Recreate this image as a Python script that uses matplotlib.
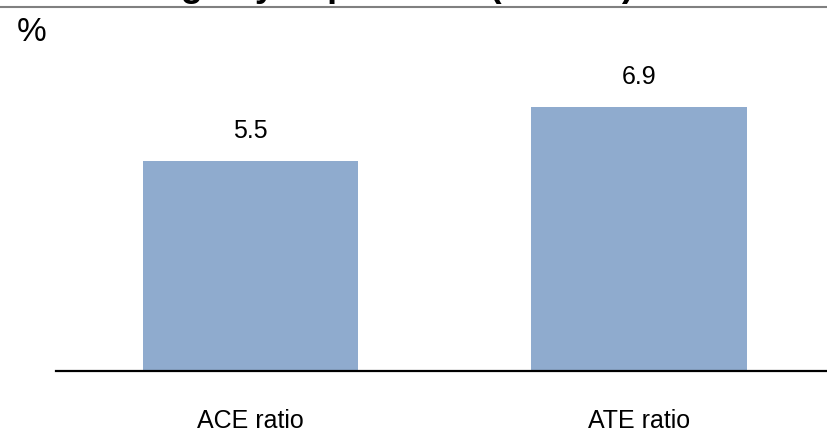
import matplotlib.pyplot as plt

# data
categories = ["ACE ratio", "ATE ratio"]
values = [5.5, 6.9]
value_labels = ["5.5", "6.9"]
title_text = "Tax savings by importance (% GDP)"
unit_label = "%"

BAR_COLOR = "#8FABCE"

plt.rcParams["font.family"] = ["Liberation Sans", "DejaVu Sans"]

fig = plt.figure(figsize=(8.27, 4.34), dpi=100)

# axes placed in pixel terms: left 56px, baseline at y=371px
ax = fig.add_axes([56 / 827, 63 / 434, 1 - 56 / 827, 306 / 434])

x = list(range(len(categories)))
bars = ax.bar(x, values, width=0.555, color=BAR_COLOR)

for rect, lab in zip(bars, value_labels):
    ax.annotate(lab, (rect.get_x() + rect.get_width() / 2, rect.get_height()),
                xytext=(0, 13), textcoords="offset points",
                ha="center", va="bottom", fontsize=18)

ax.set_xlim(-0.5, 1.483)
ax.set_ylim(0, 8)
ax.set_xticks(x)
ax.set_xticklabels(categories, fontsize=18)
ax.tick_params(axis="x", length=0, pad=27)
ax.set_yticks([])

for side in ["top", "right", "left"]:
    ax.spines[side].set_visible(False)
ax.spines["bottom"].set_linewidth(1.6)
ax.spines["bottom"].set_color("black")

# title (clipped at top edge in the reference) and the grey rule beneath it
fig.text(634 / 827, 1 + 3.5 / 434, title_text, ha="right", va="baseline",
         fontsize=26, fontweight="bold")
fig.add_artist(plt.Line2D([0, 1], [1 - 7 / 434, 1 - 7 / 434],
                          transform=fig.transFigure, color="#808080", linewidth=1.5))

fig.text(17 / 827, 1 - 41 / 434, unit_label, ha="left", va="baseline", fontsize=24)

fig.savefig("out.png", dpi=100)
